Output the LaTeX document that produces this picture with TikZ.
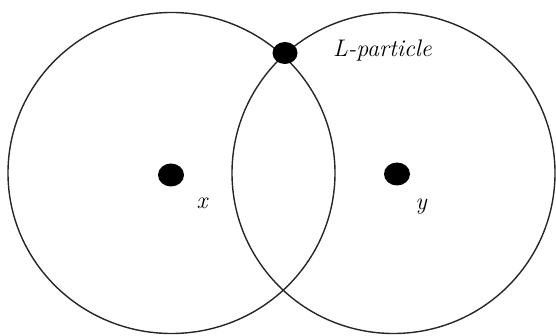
\documentclass[tikz,border=0pt]{standalone}
\usepackage{tikz}
\usetikzlibrary{shapes.geometric}
\tikzset{
  ring/.style={draw=black!85, line width=1.4pt},
  dot/.style={ellipse, fill=black, inner sep=0pt, minimum width=26pt, minimum height=23pt},
  lbl/.style={font=\fontsize{24}{27}\selectfont\itshape, inner sep=0pt}
}
\begin{document}
\begin{tikzpicture}[x=1pt,y=-1pt]
\useasboundingbox (0,0) rectangle (556,336);
\draw[ring] (171.5,173) ellipse [x radius=163.5, y radius=160.5];
\draw[ring] (393.5,173) ellipse [x radius=161.5, y radius=160.5];
\node[dot] (px) at (171,175) {};
\node[dot] (py) at (397,174) {};
\node[dot, minimum width=25pt, minimum height=22pt] (pl) at (285,53) {};
\node[lbl] (tx) at (202,203) {x};
\node[lbl] (ty) at (421,207) {y};
\node[lbl, anchor=west] (tl) at (333,51) {L-particle};
\end{tikzpicture}
\end{document}
